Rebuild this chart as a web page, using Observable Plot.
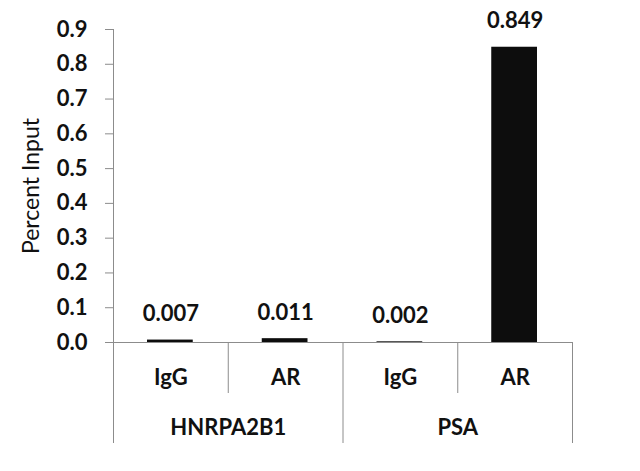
<!DOCTYPE html>
<html>
<head>
<meta charset="utf-8">
<script src="https://cdn.jsdelivr.net/npm/d3@7"></script>
<script src="https://cdn.jsdelivr.net/npm/@observablehq/plot@0.6"></script>
<style>
  body { margin: 0; background: #fff; }
  #chart svg { font-family: Lato, "Open Sans", sans-serif; }
</style>
</head>
<body>
<div id="chart"></div>
<script>
// values
const genes = ["HNRPA2B1", "HNRPA2B1", "PSA", "PSA"]
const antibodies = ["IgG", "AR", "IgG", "AR"]
const values = [0.007, 0.011, 0.002, 0.849]
const labels = ["0.007", "0.011", "0.002", "0.849"]
const groups = ["HNRPA2B1", "PSA"]
const yTicks = [0, 0.1, 0.2, 0.3, 0.4, 0.5, 0.6, 0.7, 0.8, 0.9]

const data = values.map((v, i) => ({i, gene: genes[i], ab: antibodies[i], value: v, label: labels[i]}))
const groupData = groups.map(g => {
  const idx = data.filter(d => d.gene == g).map(d => d.i)
  return {gene: g, start: d3.min(idx), end: d3.max(idx) + 1}
})
const innerBounds = groupData.flatMap(g => d3.range(g.start + 1, g.end))
const outerBounds = [...new Set(groupData.flatMap(g => [g.start, g.end]))]

const lineColor = "#8c8c8c"
const textColor = "#111"

const chart = Plot.plot({
  width: 640,
  height: 471,
  marginLeft: 113,
  marginRight: 68,
  marginTop: 29,
  marginBottom: 129,
  x: {domain: [0, values.length], axis: null},
  y: {domain: [0, 0.9], axis: null},
  marks: [
    // bars
    Plot.rectY(data, {
      x1: d => d.i,
      x2: d => d.i + 1,
      y: "value",
      fill: "#0d0d0d",
      insetLeft: 34,
      insetRight: 35
    }),
    // value labels
    Plot.text(data, {
      x: d => d.i + 0.5,
      y: "value",
      text: "label",
      dy: -26,
      fontSize: 22,
      fontWeight: "bold",
      fill: textColor
    }),
    // y axis
    Plot.axisY(yTicks, {
      label: null,
      tickFormat: d3.format(".1f"),
      tickSize: 8,
      tickPadding: 18,
      stroke: lineColor,
      fontSize: 22,
      fontWeight: "bold",
      fill: textColor
    }),
    Plot.ruleX([0], {y1: 0, y2: 0.9, stroke: lineColor}),
    Plot.ruleY([0], {stroke: lineColor, insetLeft: -6}),
    // category divider lines
    Plot.ruleX(innerBounds, {x: d => d, y1: 0, y2: 0, insetBottom: -51, stroke: lineColor}),
    Plot.ruleX(outerBounds, {x: d => d, y1: 0, y2: 0, insetBottom: -101, stroke: lineColor}),
    // antibody labels
    Plot.text(data, {
      x: d => d.i + 0.5,
      y: 0,
      text: "ab",
      dy: 35,
      fontSize: 22,
      fontWeight: "bold",
      fill: textColor
    }),
    // gene labels
    Plot.text(groupData, {
      x: d => (d.start + d.end) / 2,
      y: 0,
      text: "gene",
      dy: 85,
      fontSize: 22,
      fontWeight: "bold",
      fill: textColor
    }),
    // y label
    Plot.text(["Percent Input"], {
      frameAnchor: "left",
      textAnchor: "middle",
      rotate: -90,
      dx: -82,
      fontSize: 23,
      fill: textColor
    })
  ]
})
d3.select("#chart").append(() => chart)
</script>
</body>
</html>
